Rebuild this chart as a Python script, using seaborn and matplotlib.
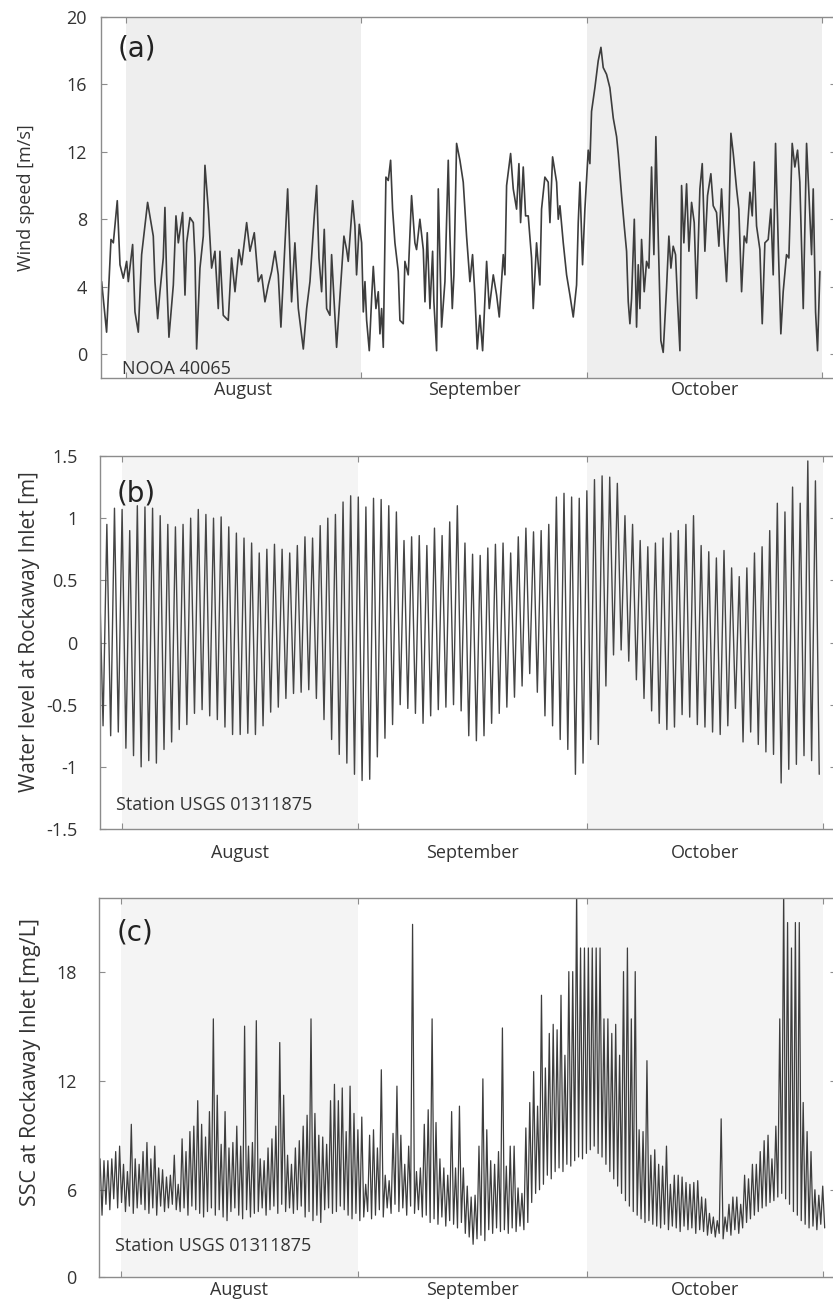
import matplotlib
matplotlib.use("Agg")
import matplotlib.pyplot as plt
import numpy as np
import pandas as pd
import seaborn as sns

# ---------------------------------------------------------------------------
# Data. Time axis: days since 1 August.
# ---------------------------------------------------------------------------
wind_day = [
    -3.22, -2.56, -1.98, -1.67, -1.15, -0.79, -0.35, 0.09, 0.31, 0.88,
    1.19, 1.63, 2.07, 2.86, 3.61, 3.83, 4.19, 4.49, 4.93, 5.15,
    5.37, 5.68, 6.26, 6.61, 6.92, 7.49, 7.80, 8.02, 8.46, 8.90,
    9.12, 9.34, 9.78, 10.22, 10.44, 10.88, 11.32, 11.76, 12.20, 12.42,
    12.86, 13.52, 13.96, 14.41, 14.93, 15.29, 15.95, 16.39, 16.96, 17.49,
    17.93, 18.37, 18.81, 19.25, 19.69, 20.13, 20.48, 21.37, 21.89, 22.33,
    22.78, 23.44, 23.88, 24.32, 24.89, 25.20, 25.51, 25.86, 26.21, 26.52,
    26.96, 27.18, 27.84,
    28.81, 29.16, 29.38, 29.96, 30.26, 30.48, 30.84, 31.15, 31.37, 31.59,
    31.81, 32.16, 32.47, 32.69, 33.04, 33.35, 33.57, 33.79, 34.01, 34.36,
    34.67, 34.98, 35.24, 35.55, 35.99, 36.21, 36.65, 36.87, 37.31, 37.75,
    38.19, 38.41, 38.85, 39.30, 39.52, 39.82, 40.18, 40.53, 40.70, 41.06,
    41.28, 41.50, 41.72, 42.16, 42.60, 42.82, 43.13, 43.35, 43.70, 44.14,
    44.58, 45.02, 45.46, 45.81, 46.12, 46.43, 46.78, 47.14, 47.67, 48.02,
    48.55, 48.99, 49.34, 49.87, 50.09, 50.31, 50.84, 51.19, 51.63, 51.94,
    52.16, 52.51, 52.82, 53.17, 53.61, 53.83, 54.27, 54.71, 54.93, 55.37,
    55.81, 56.04, 56.39, 56.92, 57.14, 57.36, 57.80, 58.24, 58.68, 59.12,
    59.56, 59.78, 60.00, 60.35, 60.66,
    61.10, 61.32, 61.54, 61.98, 62.42, 62.78, 63.08, 63.52, 63.96, 64.41,
    64.85, 65.07, 65.51, 65.86, 66.17, 66.39, 66.61, 66.83, 67.19, 67.49,
    67.71, 67.93, 68.15, 68.50, 68.81, 69.12, 69.47, 69.78, 70.04, 70.35,
    70.70, 71.01, 71.45, 71.76, 72.03, 72.33, 72.64, 72.91, 73.22, 73.44,
    73.74, 74.10, 74.41, 74.76, 75.11, 75.42, 75.86, 76.17, 76.52, 76.87,
    77.31, 77.62, 78.06, 78.37, 78.72, 79.07, 79.38, 79.69, 79.96, 80.27,
    80.71, 81.01, 81.37, 81.72, 82.03, 82.47, 82.78, 83.04, 83.35, 83.79,
    84.10, 84.45, 84.89, 85.24, 85.55, 85.86, 86.21, 86.56, 86.87, 87.31,
    87.62, 88.06, 88.41, 88.77, 89.07, 89.52, 89.96, 90.26, 90.62, 90.84,
    91.15, 91.41, 91.72,
]
wind_speed = [
    4.3, 1.3, 6.8, 6.6, 9.1, 5.3, 4.5, 5.5, 4.3, 6.5,
    2.5, 1.3, 5.9, 9.0, 7.0, 4.3, 2.1, 3.7, 5.7, 8.7,
    4.7, 1.0, 4.1, 8.2, 6.6, 8.4, 3.5, 6.6, 8.1, 7.8,
    5.7, 0.3, 5.1, 7.0, 11.2, 8.6, 5.1, 6.1, 2.7, 6.1,
    2.3, 2.0, 5.7, 3.7, 6.2, 5.3, 7.8, 6.1, 7.2, 4.3,
    4.7, 3.1, 4.1, 4.9, 6.1, 4.7, 1.6, 9.8, 3.1, 6.6,
    2.7, 0.3, 2.7, 4.3, 8.2, 10.0, 5.7, 3.7, 7.4, 2.7,
    2.3, 5.9, 0.4,
    7.0, 6.2, 5.5, 9.1, 7.6, 4.7, 7.7, 6.6, 2.5, 4.3,
    2.0, 0.2, 3.3, 5.2, 2.7, 3.7, 1.2, 2.7, 0.4, 10.5,
    10.3, 11.5, 8.6, 6.6, 4.9, 2.0, 1.8, 5.5, 4.7, 9.4,
    6.6, 6.2, 8.0, 6.2, 3.1, 7.2, 2.7, 6.1, 3.1, 0.2,
    9.8, 5.7, 1.6, 4.3, 11.5, 7.0, 2.7, 4.7, 12.5, 11.5,
    10.2, 7.0, 4.3, 5.9, 3.5, 0.3, 2.3, 0.2, 5.5, 2.7,
    4.7, 3.5, 2.2, 5.9, 4.7, 10.0, 11.9, 9.8, 8.6, 11.3,
    7.8, 11.1, 8.2, 8.2, 5.7, 2.7, 6.6, 4.1, 8.6, 10.5,
    10.2, 7.8, 11.7, 10.2, 8.0, 8.8, 6.6, 4.7, 3.5, 2.2,
    4.1, 7.8, 10.2, 5.3, 8.6,
    12.1, 11.3, 14.4, 15.8, 17.4, 18.2, 17.0, 16.6, 15.8, 14.0,
    12.9, 11.9, 9.4, 7.6, 6.1, 3.1, 1.8, 3.3, 8.0, 1.6,
    5.3, 2.7, 6.8, 3.7, 5.5, 5.1, 11.1, 5.9, 12.9, 7.0,
    0.8, 0.1, 3.9, 7.0, 5.1, 6.4, 5.9, 3.1, 0.2, 10.0,
    6.6, 10.1, 6.1, 9.0, 7.8, 3.3, 9.8, 11.3, 6.1, 9.4,
    10.7, 8.8, 8.4, 6.4, 9.8, 6.6, 4.3, 7.8, 13.1, 11.9,
    9.8, 8.6, 3.7, 7.0, 6.6, 9.6, 8.2, 11.4, 7.6, 6.2,
    1.8, 6.6, 6.8, 8.6, 4.7, 12.5, 6.6, 1.2, 3.7, 5.9,
    5.7, 12.5, 11.1, 12.1, 10.2, 2.7, 12.5, 9.6, 5.9, 9.8,
    2.5, 0.2, 4.9,
]

# daily high / low water at Rockaway Inlet [m], days -3 .. 91
tide_day = list(range(-3, 92))
tide_high = [
    0.60, 0.95, 1.08, 1.07, 0.90, 1.10, 1.09, 1.08, 1.02, 0.95,
    0.93, 0.95, 1.00, 1.07, 1.03, 1.00, 1.01, 0.93, 0.88, 0.84,
    0.80, 0.72, 0.75, 0.79, 0.75, 0.72, 0.78, 0.85, 0.84, 0.94,
    1.00, 1.03, 1.13, 1.18, 1.17, 1.09, 1.16, 1.15, 1.10, 1.05,
    0.82, 0.85, 0.86, 0.78, 0.92, 0.86, 0.97, 1.10, 0.80, 0.71,
    0.70, 0.76, 0.79, 0.80, 0.72, 0.85, 0.92, 0.89, 0.90, 0.95,
    1.17, 1.20, 1.17, 1.16, 1.22, 1.31, 1.34, 1.33, 1.28, 1.02,
    0.95, 0.82, 0.77, 0.80, 0.84, 0.88, 0.90, 0.95, 1.02, 0.78,
    0.73, 0.68, 0.74, 0.60, 0.53, 0.60, 0.72, 0.77, 0.90, 1.12,
    1.05, 1.25, 1.12, 1.46, 1.30,
]
tide_low = [
    -0.67, -0.75, -0.72, -0.85, -0.91, -1.00, -0.95, -0.97, -0.86, -0.80,
    -0.70, -0.66, -0.57, -0.54, -0.59, -0.62, -0.68, -0.74, -0.74, -0.73,
    -0.74, -0.67, -0.56, -0.52, -0.45, -0.41, -0.40, -0.38, -0.45, -0.62,
    -0.78, -0.90, -0.97, -1.06, -1.11, -1.10, -0.92, -0.77, -0.66, -0.50,
    -0.53, -0.57, -0.65, -0.59, -0.54, -0.52, -0.50, -0.55, -0.75, -0.79,
    -0.75, -0.65, -0.57, -0.52, -0.44, -0.35, -0.25, -0.40, -0.59, -0.67,
    -0.78, -0.86, -1.06, -0.97, -0.78, -0.82, -0.35, -0.10, -0.06, -0.15,
    -0.30, -0.45, -0.55, -0.65, -0.70, -0.68, -0.58, -0.60, -0.66, -0.68,
    -0.72, -0.74, -0.67, -0.53, -0.80, -0.72, -0.82, -0.88, -0.90, -1.13,
    -1.02, -0.98, -0.91, -0.95, -1.06,
]
tide_low_lag = 0.5  # low water follows high water by half a day

# suspended sediment: one peak + following trough per tidal cycle
ssc_start_day = -2.76
ssc_step_day = 0.512
ssc_peak = [
    7.7, 7.6, 7.6, 7.7, 8.1, 8.4, 7.4, 7.0, 9.6, 7.7,
    7.4, 8.1, 8.6, 7.7, 8.4, 7.2, 7.1, 6.7, 6.8, 7.9,
    6.3, 8.8, 8.1, 9.2, 9.5, 10.9, 9.6, 8.9, 10.3, 15.4,
    11.2, 8.5, 10.3, 8.3, 8.6, 9.5, 8.4, 15.0, 8.4, 8.6,
    15.3, 7.7, 7.6, 8.3, 8.8, 9.5, 14.1, 11.2, 7.9, 7.4,
    8.3, 8.7, 9.5, 10.1, 15.4, 10.2, 9.0, 8.9, 8.5, 10.9,
    11.8, 10.9, 11.6,
    9.2, 11.7, 10.2, 9.3, 10.0, 6.3, 9.0, 9.3, 8.3, 12.6,
    6.8, 6.5, 9.1, 11.7, 9.0, 7.4, 8.4, 20.6, 7.0, 7.2,
    9.6, 10.4, 15.4, 9.7, 7.7, 7.2, 6.8, 10.3, 7.2, 10.6,
    7.2, 6.2, 5.6, 5.7, 8.4, 12.1, 9.3, 7.6, 7.4, 8.1,
    14.9, 7.3, 8.4, 8.4, 6.1, 5.8, 9.4, 10.8, 12.5, 10.6,
    16.7, 12.7, 14.6, 15.1, 14.8, 16.7, 13.4, 18.0, 18.0, 22.5,
    19.3, 19.3, 19.3, 19.3,
    19.3, 19.3, 15.4, 15.4, 14.6, 15.1, 13.4, 18.0, 19.3, 15.4,
    18.0, 9.3, 9.2, 13.1, 7.9, 8.2, 7.4, 7.3, 8.4, 6.3,
    6.8, 6.8, 6.7, 6.4, 6.3, 6.4, 6.5, 5.6, 5.5, 4.7,
    4.5, 4.3, 9.9, 4.5, 5.2, 5.6, 5.6, 5.2, 6.8, 6.6,
    7.4, 7.4, 8.1, 8.7, 9.0, 7.7, 9.5, 15.4, 22.5, 20.7,
    19.3, 20.7, 20.7, 10.8, 9.2, 8.1, 6.0, 5.7, 6.2,
]
ssc_low = [
    4.6, 5.2, 4.9, 5.5, 5.0, 5.3, 4.8, 5.1, 4.7, 5.0,
    5.2, 4.9, 4.7, 5.0, 4.6, 5.1, 4.8, 5.0, 5.2, 4.9,
    4.8, 5.0, 4.6, 5.1, 4.9, 4.7, 4.5, 4.8, 5.0, 4.6,
    4.9, 4.5, 4.3, 4.8, 5.0, 4.6, 4.4, 4.9, 4.5, 4.7,
    4.8, 5.0, 4.6, 4.9, 5.1, 4.7, 5.2, 4.8, 5.0, 4.7,
    4.9, 5.1, 4.5, 4.8, 4.3, 4.6, 4.2, 4.9, 5.0, 4.7,
    4.8, 5.1, 4.9,
    4.6, 4.4, 4.7, 4.3, 4.5, 4.8, 4.4, 4.6, 4.9, 4.5,
    5.0, 4.7, 5.2, 4.8, 5.0, 4.6, 5.1, 4.7, 4.9, 4.5,
    4.6, 4.2, 4.4, 4.1, 4.5, 4.0, 4.3, 4.1, 3.9, 4.2,
    3.6, 3.4, 3.0, 3.3, 3.5, 3.2, 3.8, 3.6, 3.9, 3.7,
    3.8, 3.6, 3.9, 3.7, 4.0, 3.8, 4.2, 5.3, 5.8, 6.0,
    6.3, 6.8, 6.6, 7.0, 7.2, 7.0, 7.4, 7.3, 7.6, 7.8,
    7.7, 8.0, 8.2, 8.4,
    8.0, 7.8, 7.4, 7.0, 6.6, 6.2, 5.8, 5.4, 5.1, 4.8,
    4.6, 4.4, 4.2, 4.3, 4.1, 4.0, 3.9, 4.1, 3.8, 4.0,
    3.9, 3.7, 4.0, 3.8, 3.9, 3.6, 3.8, 3.7, 3.5, 3.6,
    3.4, 3.6, 3.3, 3.7, 3.5, 3.8, 3.6, 3.9, 4.2, 4.4,
    4.6, 4.8, 5.0, 5.1, 5.3, 5.4, 5.6, 5.8, 5.5, 5.2,
    4.8, 4.6, 4.3, 4.1, 3.9, 4.0, 3.8, 4.1, 3.9,
]

month_edges = [0, 31, 61, 92]
month_mid = [15.5, 46, 76.5]
month_names = ["August", "September", "October"]
shade_from = [0, 61]
shade_to = [31, 92]

# ---------------------------------------------------------------------------
# Long-form tables for seaborn
# ---------------------------------------------------------------------------
wind_df = pd.DataFrame({"day": wind_day, "speed": wind_speed})

tide_t = np.column_stack([tide_day, np.add(tide_day, tide_low_lag)]).ravel()
tide_v = np.column_stack([tide_high, tide_low]).ravel()
tide_df = pd.DataFrame({"day": tide_t, "level": tide_v})

peak_t = ssc_start_day + ssc_step_day * np.arange(len(ssc_peak))
ssc_t = np.column_stack([peak_t, peak_t + ssc_step_day / 2]).ravel()
ssc_v = np.column_stack([ssc_peak, ssc_low]).ravel()
ssc_df = pd.DataFrame({"day": ssc_t, "ssc": ssc_v})

# ---------------------------------------------------------------------------
# Figure
# ---------------------------------------------------------------------------
sns.set_theme(style="white")
plt.rcParams["font.family"] = ["Open Sans", "DejaVu Sans"]

W, H = 833, 1301
fig = plt.figure(figsize=(W / 100, H / 100), dpi=100)

GREY = "#8c8c8c"
TXT = "#333333"
LINE = "#3d3d3d"


def px_axes(left, top, right, bottom):
    return fig.add_axes([left / W, 1 - bottom / H, (right - left) / W, (bottom - top) / H])


def style(ax, xlim, ylim, yticks, ylabels, ylabel, ylabel_size, ylabel_x,
          ylabel_y, shade, month_pad, ytick_pad):
    ax.set_xlim(*xlim)
    ax.set_ylim(*ylim)
    for a, b in zip(shade_from, shade_to):
        ax.axvspan(a, b, color=shade, lw=0, zorder=0)
    ax.set_xticks(month_edges, labels=[])
    ax.set_xticks(month_mid, labels=month_names, minor=True)
    ax.tick_params(axis="x", which="major", direction="in", length=4, width=0.8,
                   top=True, bottom=True, color=GREY)
    ax.tick_params(axis="x", which="minor", length=0, pad=month_pad,
                   labelsize=13, labelcolor=TXT)
    ax.set_yticks(yticks, labels=ylabels)
    ax.tick_params(axis="y", direction="in", length=4, width=0.8, left=True,
                   right=True, color=GREY, pad=ytick_pad, labelsize=13,
                   labelcolor=TXT)
    for s in ax.spines.values():
        s.set_color(GREY)
        s.set_linewidth(1.0)
    ax.set_xlabel("")
    ax.set_ylabel(ylabel, fontsize=ylabel_size, color=TXT)
    ax.yaxis.set_label_coords(ylabel_x, ylabel_y)


# (a) wind speed
ax_a = px_axes(101, 17, 836, 378)
sns.lineplot(data=wind_df, x="day", y="speed", color=LINE, lw=1.2, ax=ax_a)
style(ax_a, (-3.3, 93.85), (-1.42, 20), [0, 4, 8, 12, 16, 20],
      ["0", "4", "8", "12", "16", "20"], "Wind speed [m/s]", 13, -0.090, 0.5,
      "#eeeeee", 2, 10)
ax_a.text(0.022, 0.914, "(a)", transform=ax_a.transAxes, fontsize=20,
          family="DejaVu Sans", va="center", ha="left", color="#222222")
ax_a.text(0.029, 0.024, "NOOA 40065", transform=ax_a.transAxes, fontsize=13,
          va="center", ha="left", color=TXT)

# (b) water level
ax_b = px_axes(100, 456, 836, 829)
sns.lineplot(data=tide_df, x="day", y="level", sort=False, color="#454545",
             lw=1.0, ax=ax_b)
style(ax_b, (-2.9, 93.7), (-1.5, 1.5), [-1.5, -1, -0.5, 0, 0.5, 1, 1.5],
      ["-1.5", "-1", "-0.5", "0", "0.5", "1", "1.5"],
      "Water level at Rockaway Inlet [m]", 15, -0.082, 0.528, "#f4f4f4",
      11, 16)
ax_b.text(0.023, 0.90, "(b)", transform=ax_b.transAxes, fontsize=20,
          family="DejaVu Sans", va="center", ha="left", color="#222222")
ax_b.text(0.022, 0.064, "Station USGS 01311875", transform=ax_b.transAxes,
          fontsize=13, va="center", ha="left", color=TXT)

# (c) suspended sediment concentration (bottom of the frame is labelled 0)
ax_c = px_axes(99, 898, 836, 1277)
sns.lineplot(data=ssc_df, x="day", y="ssc", sort=False, color=LINE, lw=0.9,
             ax=ax_c)
c_bottom, c_top = 1.2, 22.05
style(ax_c, (-2.9, 93.7), (c_bottom, c_top), [c_bottom, 6, 12, 18],
      ["0", "6", "12", "18"], "SSC at Rockaway Inlet [mg/L]", 15.5, -0.079,
      0.567, "#f4f4f4", 3, 16)
ax_c.text(0.024, 0.91, "(c)", transform=ax_c.transAxes, fontsize=20,
          family="DejaVu Sans", va="center", ha="left", color="#222222")
ax_c.text(0.022, 0.082, "Station USGS 01311875", transform=ax_c.transAxes,
          fontsize=13, va="center", ha="left", color=TXT)

fig.savefig("out.png", dpi=100)
